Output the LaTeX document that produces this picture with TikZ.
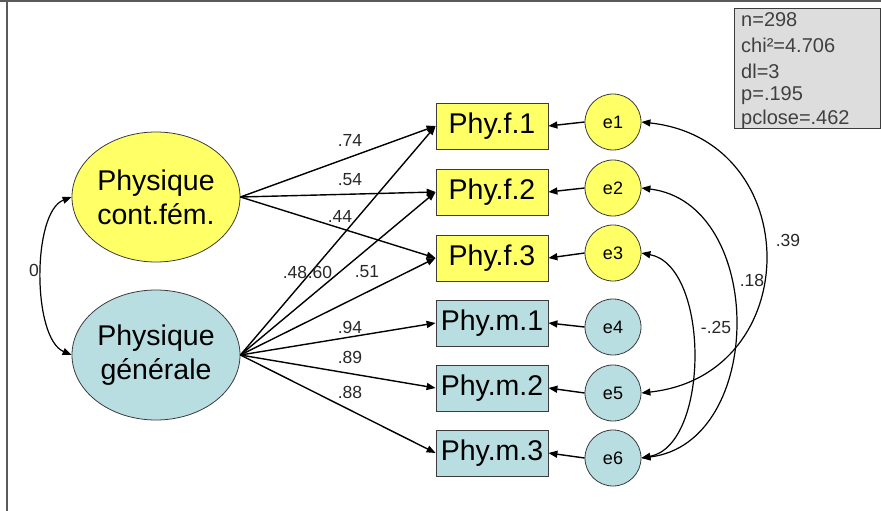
\documentclass[tikz,border=0pt]{standalone}
\usepackage{fontspec}
\setmainfont{Liberation Sans}
\usetikzlibrary{shapes.geometric,arrows.meta}
\definecolor{yel}{RGB}{255,255,102}
\definecolor{blu}{RGB}{184,222,226}
\definecolor{edge}{RGB}{60,60,60}
\definecolor{frame}{RGB}{90,90,90}
\definecolor{statbg}{RGB}{221,221,221}
\definecolor{lab}{RGB}{40,40,40}
\tikzset{
  latent/.style={ellipse,draw=edge,line width=0.8pt,inner sep=0pt,minimum width=168pt,minimum height=130pt,align=center,font=\fontsize{28.5}{34}\selectfont},
  obsbox/.style={rectangle,draw=edge,line width=0.8pt,inner sep=0pt,minimum width=112pt,minimum height=46pt,font=\fontsize{28.5}{30}\selectfont},
  errc/.style={circle,draw=edge,line width=0.8pt,inner sep=0pt,minimum size=56pt,font=\fontsize{18}{20}\selectfont},
  pth/.style={line width=1.4pt,-{Triangle[length=9pt,width=7pt]}},
  cov/.style={line width=1.2pt,{Triangle[length=9pt,width=7pt]}-{Triangle[length=9pt,width=7pt]}},
  lbl/.style={inner sep=0pt,text=lab,font=\fontsize{17.5}{19}\selectfont},
  statlbl/.style={inner sep=0pt,anchor=west,text=black!75,font=\fontsize{20}{22}\selectfont},
}
\begin{document}
\begin{tikzpicture}[x=1pt,y=-1pt]
\useasboundingbox (0,0) rectangle (881,511);
\fill[white] (0,0) rectangle (881,511);
\draw[frame,line width=2pt] (0,1) -- (881,1);
\draw[frame,line width=2pt] (7,0) -- (7,511);
% stats box
\node[draw=edge,fill=statbg,line width=0.8pt,minimum width=146pt,minimum height=120pt,inner sep=0pt] (stat) at (807,68) {};
\node[statlbl] (s1) at (741,20) {n=298};
\node[statlbl] (s2) at (741,45) {chi²=4.706};
\node[statlbl] (s3) at (741,71) {dl=3};
\node[statlbl] (s4) at (741,96) {p=.195};
\node[statlbl] (s5) at (741,119) {pclose=.462};
% latent
\node[latent,fill=yel] (F) at (156,197) {Physique\\cont.fém.};
\node[latent,fill=blu] (G) at (156,355) {Physique\\générale};
% observed
\node[obsbox,fill=yel] (f1) at (492,126) {Phy.f.1};
\node[obsbox,fill=yel] (f2) at (492,192) {Phy.f.2};
\node[obsbox,fill=yel] (f3) at (492,258) {Phy.f.3};
\node[obsbox,fill=blu] (m1) at (492,323) {Phy.m.1};
\node[obsbox,fill=blu] (m2) at (492,388) {Phy.m.2};
\node[obsbox,fill=blu] (m3) at (492,453) {Phy.m.3};
% errors
\node[errc,fill=yel] (e1) at (613,122) {e1};
\node[errc,fill=yel] (e2) at (613,188) {e2};
\node[errc,fill=yel] (e3) at (613,253) {e3};
\node[errc,fill=blu] (e4) at (613,327) {e4};
\node[errc,fill=blu] (e5) at (613,393) {e5};
\node[errc,fill=blu] (e6) at (613,458) {e6};
% paths
\foreach \b in {f1,f2,f3} \draw[pth] (F.east) -- (\b.west);
\foreach \b in {f1,f2,f3,m1,m2,m3} \draw[pth] (G.east) -- (\b.west);
\draw[pth] (e1.west) -- (f1.east);
\draw[pth] (e2.west) -- (f2.east);
\draw[pth] (e3.west) -- (f3.east);
\draw[pth] (e4.west) -- (m1.east);
\draw[pth] (e5.west) -- (m2.east);
\draw[pth] (e6.west) -- (m3.east);
% covariances
\draw[cov] (F.west) .. controls (32,212) and (32,338) .. (G.west);
\draw[cov] (e1.east) .. controls (806,140) and (806,375) .. (e5.east);
\draw[cov] (e2.east) .. controls (766,203) and (766,443) .. (e6.east);
\draw[cov] (e3.east) .. controls (710,266) and (710,445) .. (e6.east);
% labels
\node[lbl] (l1) at (350,140) {.74};
\node[lbl] (l2) at (350,180) {.54};
\node[lbl] (l3) at (340,216) {.44};
\node[lbl] (l4) at (295,272) {.48};
\node[lbl] (l5) at (320,272) {.60};
\node[lbl] (l6) at (367,272) {.51};
\node[lbl] (l7) at (350,327) {.94};
\node[lbl] (l8) at (350,357) {.89};
\node[lbl] (l9) at (350,392) {.88};
\node[lbl] (l10) at (34,270) {0};
\node[lbl] (l11) at (788,240) {.39};
\node[lbl] (l12) at (752,280) {.18};
\node[lbl] (l13) at (716,327) {-.25};
\end{tikzpicture}
\end{document}
